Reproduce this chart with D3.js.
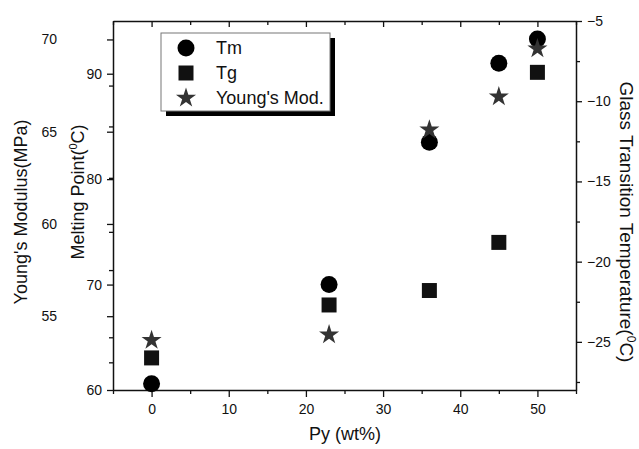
<!DOCTYPE html>
<html><head><meta charset="utf-8">
<script src="https://cdn.jsdelivr.net/npm/d3@7"></script>
<style>
body{margin:0;background:#fff}
text{font-family:"Liberation Sans",Arial,sans-serif;fill:#111}
</style>
</head><body>
<svg id="c" width="639" height="449"></svg>
<script>
// ---- data ----
const pyContent = [0, 23, 36, 45, 50];
const tmValues = [60.6, 70.0, 83.5, 91.0, 93.3];       // Melting point (°C)
const tgValues = [-26.0, -22.7, -21.8, -18.8, -8.2];   // Glass transition (°C)
const youngValues = [53.7, 54.0, 65.1, 66.9, 69.5];    // Young's modulus (MPa)
const xTickLabels = [0, 10, 20, 30, 40, 50];
const mpTickLabels = [60, 70, 80, 90];
const ymTickLabels = [55, 60, 65, 70];
const tgTickLabels = [-25, -20, -15, -10, -5];
const legendNames = ["Tm", "Tg", "Young's Mod."];

const svg = d3.select("#c");
const L = 113, R = 576, T = 21, B = 390;

const x = d3.scaleLinear().domain([-5, 55]).range([L, R]);
const yMP = d3.scaleLinear().domain([60, 95]).range([B, T]);
const yYM = d3.scaleLinear().domain([51, 71]).range([B, T]);
const yTG = d3.scaleLinear().domain([-28, -5]).range([B, T]);

function styleAxis(g, fs) {
  g.selectAll("path").attr("stroke", "#111").attr("stroke-width", 1.5);
  g.selectAll("line").attr("stroke", "#111").attr("stroke-width", 1.3);
  g.selectAll("text").attr("font-size", fs).attr("font-family", '"Liberation Sans",Arial,sans-serif').attr("fill", "#111");
}

// bottom axis
const gb = svg.append("g").attr("transform", `translate(0,${B})`)
  .call(d3.axisBottom(x).tickValues(xTickLabels).tickSize(7).tickPadding(7).tickSizeOuter(0));
styleAxis(gb, 14);
const gbm = svg.append("g").attr("transform", `translate(0,${B})`)
  .call(d3.axisBottom(x).tickValues([-5, 5, 15, 25, 35, 45, 55]).tickSize(4).tickFormat("").tickSizeOuter(0));
styleAxis(gbm, 14); gbm.select("path").remove();

// top axis (ticks inward)
const gt = svg.append("g").attr("transform", `translate(0,${T})`)
  .call(d3.axisBottom(x).tickValues(xTickLabels).tickSize(6).tickFormat("").tickSizeOuter(0));
styleAxis(gt, 14);
const gtm = svg.append("g").attr("transform", `translate(0,${T})`)
  .call(d3.axisBottom(x).tickValues([-5, 5, 15, 25, 35, 45, 55]).tickSize(4).tickFormat("").tickSizeOuter(0));
styleAxis(gtm, 14); gtm.select("path").remove();

// left axis: melting point
const gl = svg.append("g").attr("transform", `translate(${L},0)`)
  .call(d3.axisLeft(yMP).tickValues(mpTickLabels).tickSize(6).tickPadding(5).tickSizeOuter(0));
styleAxis(gl, 14);
const glm = svg.append("g").attr("transform", `translate(${L},0)`)
  .call(d3.axisLeft(yMP).tickValues([65, 75, 85]).tickSize(4).tickFormat("").tickSizeOuter(0));
styleAxis(glm, 14); glm.select("path").remove();

// left axis: Young's modulus (labels offset)
const gy = svg.append("g").attr("transform", `translate(${L},0)`)
  .call(d3.axisLeft(yYM).tickValues(ymTickLabels).tickSize(6).tickPadding(50).tickSizeOuter(0));
styleAxis(gy, 14); gy.select("path").remove();
const gym = svg.append("g").attr("transform", `translate(${L},0)`)
  .call(d3.axisLeft(yYM).tickValues([52.5, 57.5, 62.5, 67.5]).tickSize(4).tickFormat("").tickSizeOuter(0));
styleAxis(gym, 14); gym.select("path").remove();

// right axis: Tg
const gr = svg.append("g").attr("transform", `translate(${R},0)`)
  .call(d3.axisRight(yTG).tickValues(tgTickLabels).tickSize(6).tickPadding(5).tickSizeOuter(0));
styleAxis(gr, 14);
const grm = svg.append("g").attr("transform", `translate(${R},0)`)
  .call(d3.axisRight(yTG).tickValues([-7.5, -12.5, -17.5, -22.5, -27.5]).tickSize(4).tickFormat("").tickSizeOuter(0));
styleAxis(grm, 14); grm.select("path").remove();

// axis titles
svg.append("text").attr("x", 345).attr("y", 440).attr("text-anchor", "middle")
  .attr("font-size", 18).text("Py (wt%)");

svg.append("text").attr("transform", "translate(27,212) rotate(-90)").attr("text-anchor", "middle")
  .attr("font-size", 18).text("Young's Modulus(MPa)");

const mt = svg.append("text").attr("transform", "translate(84,192) rotate(-90)").attr("text-anchor", "middle")
  .attr("font-size", 18);
mt.append("tspan").text("Melting Point(");
mt.append("tspan").attr("font-size", 11).attr("dy", -7).text("0");
mt.append("tspan").attr("dy", 7).text("C)");

const gtT = svg.append("text").attr("transform", "translate(620,222) rotate(90)").attr("text-anchor", "middle")
  .attr("font-size", 19);
gtT.append("tspan").text("Glass Transition Temperature(");
gtT.append("tspan").attr("font-size", 12).attr("dy", -7).text("0");
gtT.append("tspan").attr("dy", 7).text("C)");

// markers
const circleSym = d3.symbol().type(d3.symbolCircle).size(Math.PI * 8.5 * 8.5);
const squareSym = d3.symbol().type(d3.symbolSquare).size(15 * 15);
const starSym = d3.symbol().type(d3.symbolStar).size(125);

svg.append("g").selectAll("path").data(pyContent).join("path")
  .attr("d", circleSym).attr("fill", "#000")
  .attr("transform", (d, i) => `translate(${x(d)},${yMP(tmValues[i])})`);
svg.append("g").selectAll("path").data(pyContent).join("path")
  .attr("d", squareSym).attr("fill", "#111")
  .attr("transform", (d, i) => `translate(${x(d)},${yTG(tgValues[i])})`);
svg.append("g").selectAll("path").data(pyContent).join("path")
  .attr("d", starSym).attr("fill", "#333")
  .attr("transform", (d, i) => `translate(${x(d)},${yYM(youngValues[i])})`);

// legend
const lg = svg.append("g");
lg.append("rect").attr("x", 166).attr("y", 38).attr("width", 169).attr("height", 78).attr("fill", "#000");
lg.append("rect").attr("x", 161).attr("y", 33).attr("width", 169).attr("height", 78)
  .attr("fill", "#fff").attr("stroke", "#777").attr("stroke-width", 1);
const syms = [circleSym, squareSym, starSym];
const cols = ["#000", "#111", "#333"];
legendNames.forEach((n, i) => {
  const yy = 48 + i * 25;
  lg.append("path").attr("d", syms[i]).attr("fill", cols[i]).attr("transform", `translate(186,${yy})`);
  lg.append("text").attr("x", 216).attr("y", yy).attr("dy", "0.35em").attr("font-size", 18).text(n);
});
</script>
</body></html>
